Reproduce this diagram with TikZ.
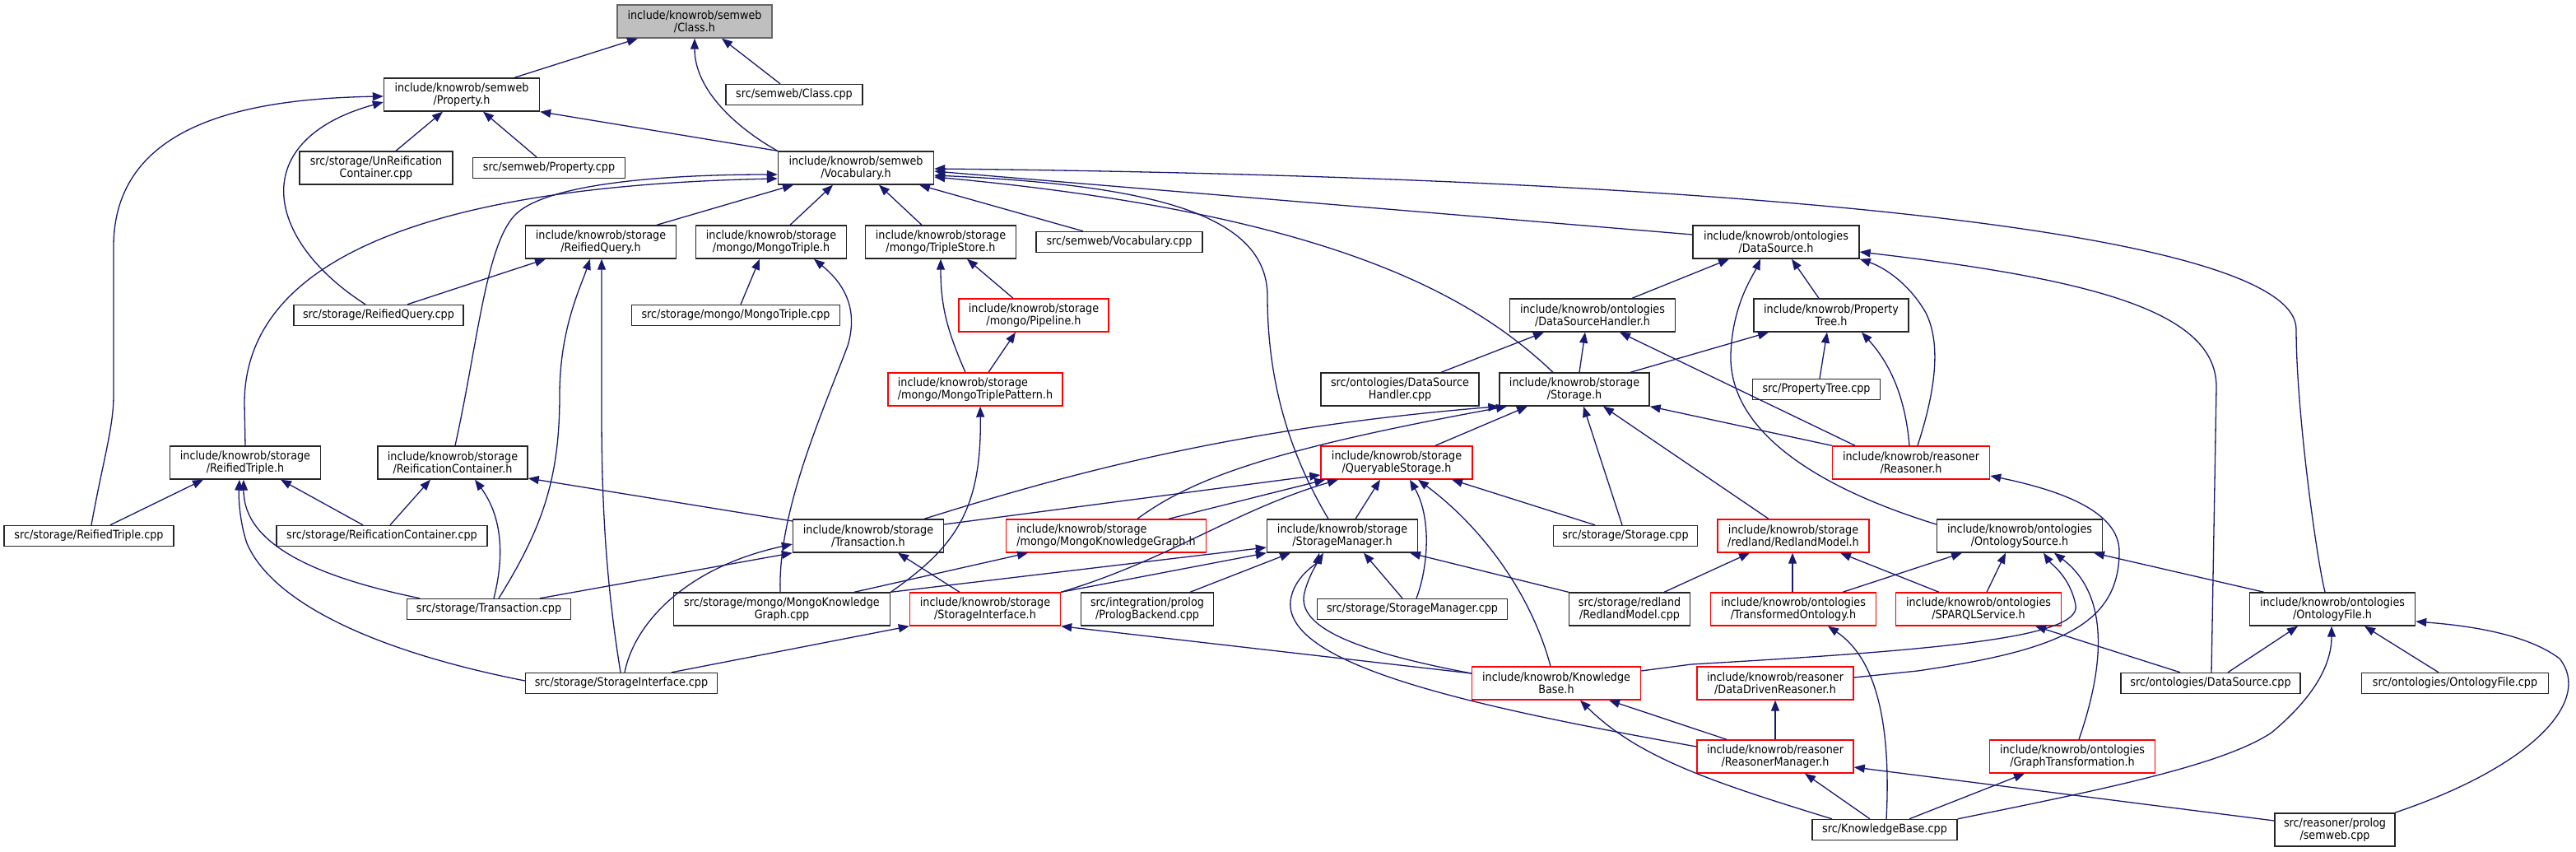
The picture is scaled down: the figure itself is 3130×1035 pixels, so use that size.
\documentclass[tikz,border=0pt]{standalone}
\usepackage{fontspec}
\setmainfont[FakeStretch=0.9]{DejaVu Sans}
\usetikzlibrary{arrows.meta,calc}
\definecolor{edgeblue}{HTML}{191970}
\definecolor{curfill}{HTML}{BFBFBF}
\definecolor{curdraw}{HTML}{666666}

\begin{document}
\begin{tikzpicture}[x=1pt,y=-1pt,
  box/.style={draw=black!85,line width=1.4pt,fill=white,inner sep=0pt,align=center,
    font=\fontsize{14.2}{15}\selectfont},
  hdr/.style={box,minimum height=40pt},
  src/.style={box,minimum height=25pt},
  trunc/.style={draw=red},
  cur/.style={fill=curfill,draw=curdraw},
  inc/.style={draw=edgeblue,line width=1.3pt,-{Triangle[length=13pt,width=10pt]}}]

\useasboundingbox (0,0) rectangle (3130,1035);

% rank 1-3
\node[hdr,cur,minimum width=188pt] (classH) at (844,26) {include/knowrob/semweb\\/Class.h};
\node[hdr,minimum width=189pt] (propH) at (561,115) {include/knowrob/semweb\\/Property.h};
\node[src,minimum width=166pt] (classCpp) at (965,115) {src/semweb/Class.cpp};
\node[hdr,minimum width=186pt] (unreifCpp) at (457,204) {src/storage/UnReification\\Container.cpp};
\node[src,minimum width=185pt] (propCpp) at (667,204) {src/semweb/Property.cpp};
\node[hdr,minimum width=189pt] (vocabH) at (1040,204) {include/knowrob/semweb\\/Vocabulary.h};

% rank 4-5
\node[hdr,minimum width=183pt] (rqueryH) at (730,294) {include/knowrob/storage\\/ReifiedQuery.h};
\node[hdr,minimum width=183pt] (mtripleH) at (937,294) {include/knowrob/storage\\/mongo/MongoTriple.h};
\node[hdr,minimum width=183pt] (tstoreH) at (1143,294) {include/knowrob/storage\\/mongo/TripleStore.h};
\node[src,minimum width=202pt] (vocabCpp) at (1360,294) {src/semweb/Vocabulary.cpp};
\node[hdr,minimum width=202pt] (dsrcH) at (2158,294) {include/knowrob/ontologies\\/DataSource.h};
\node[src,minimum width=206pt] (rqueryCpp) at (460,383) {src/storage/ReifiedQuery.cpp};
\node[src,minimum width=253pt] (mtripleCpp) at (894,383) {src/storage/mongo/MongoTriple.cpp};
\node[hdr,trunc,minimum width=182pt] (pipeH) at (1256,383) {include/knowrob/storage\\/mongo/Pipeline.h};
\node[hdr,minimum width=201pt] (dshandH) at (1935,383) {include/knowrob/ontologies\\/DataSourceHandler.h};
\node[hdr,minimum width=188pt] (ptreeH) at (2225,383) {include/knowrob/Property\\Tree.h};

% rank 6-7
\node[hdr,trunc,align=left,minimum width=212pt] (mtpatH) at (1185,473) {include/knowrob/storage\\/mongo/MongoTriplePattern.h};
\node[hdr,minimum width=192pt] (dshandCpp) at (1701,473) {src/ontologies/DataSource\\Handler.cpp};
\node[hdr,minimum width=182pt] (storH) at (1913,473) {include/knowrob/storage\\/Storage.h};
\node[src,minimum width=155pt] (ptreeCpp) at (2207,473) {src/PropertyTree.cpp};
\node[hdr,minimum width=183pt] (rtripH) at (298,562) {include/knowrob/storage\\/ReifiedTriple.h};
\node[hdr,minimum width=182pt] (rcontH) at (550,562) {include/knowrob/storage\\/ReificationContainer.h};
\node[hdr,trunc,minimum width=184pt] (qstorH) at (1697,562) {include/knowrob/storage\\/QueryableStorage.h};
\node[hdr,trunc,minimum width=191pt] (reasH) at (2322,562) {include/knowrob/reasoner\\/Reasoner.h};

% rank 8
\node[src,minimum width=206pt] (rtripCpp) at (108,651) {src/storage/ReifiedTriple.cpp};
\node[src,minimum width=256pt] (rcontCpp) at (464,651) {src/storage/ReificationContainer.cpp};
\node[hdr,minimum width=183pt] (transH) at (1055,651) {include/knowrob/storage\\/Transaction.h};
\node[hdr,trunc,align=left,minimum width=243pt] (mkgH) at (1344,651) {include/knowrob/storage\\/mongo/MongoKnowledgeGraph.h};
\node[hdr,minimum width=183pt] (smgrH) at (1631,651) {include/knowrob/storage\\/StorageManager.h};
\node[src,minimum width=175pt] (storCpp) at (1975,651) {src/storage/Storage.cpp};
\node[hdr,trunc,minimum width=184pt] (rmodelH) at (2179,651) {include/knowrob/storage\\/redland/RedlandModel.h};
\node[hdr,minimum width=201pt] (osrcH) at (2454,651) {include/knowrob/ontologies\\/OntologySource.h};

% rank 9
\node[src,minimum width=199pt] (transCpp) at (594,740) {src/storage/Transaction.cpp};
\node[hdr,minimum width=263pt] (mkgCpp) at (950,740) {src/storage/mongo/MongoKnowledge\\Graph.cpp};
\node[hdr,trunc,minimum width=183pt] (sintH) at (1197,740) {include/knowrob/storage\\/StorageInterface.h};
\node[hdr,minimum width=161pt] (prologCpp) at (1394,740) {src/integration/prolog\\/PrologBackend.cpp};
\node[src,minimum width=231pt] (smgrCpp) at (1716,740) {src/storage/StorageManager.cpp};
\node[hdr,minimum width=147pt] (rmodelCpp) at (1980,740) {src/storage/redland\\/RedlandModel.cpp};
\node[hdr,trunc,minimum width=201pt] (tontoH) at (2179,740) {include/knowrob/ontologies\\/TransformedOntology.h};
\node[hdr,trunc,minimum width=201pt] (sparqlH) at (2404,740) {include/knowrob/ontologies\\/SPARQLService.h};
\node[hdr,minimum width=201pt] (ofileH) at (2834,740) {include/knowrob/ontologies\\/OntologyFile.h};

% rank 10-12
\node[src,minimum width=233pt] (sintCpp) at (755,830) {src/storage/StorageInterface.cpp};
\node[hdr,trunc,minimum width=205pt] (kbH) at (1891,830) {include/knowrob/Knowledge\\Base.h};
\node[hdr,trunc,minimum width=190pt] (ddreasH) at (2157,830) {include/knowrob/reasoner\\/DataDrivenReasoner.h};
\node[src,minimum width=218pt] (dsrcCpp) at (2686,830) {src/ontologies/DataSource.cpp};
\node[src,minimum width=227pt] (ofileCpp) at (2983,830) {src/ontologies/OntologyFile.cpp};
\node[hdr,trunc,minimum width=190pt] (rmgrH) at (2157,919) {include/knowrob/reasoner\\/ReasonerManager.h};
\node[hdr,trunc,minimum width=201pt] (gtransH) at (2518,919) {include/knowrob/ontologies\\/GraphTransformation.h};
\node[src,minimum width=176pt] (kbCpp) at (2290,1008) {src/KnowledgeBase.cpp};
\node[hdr,minimum width=146pt] (semwebCpp) at (2837,1008) {src/reasoner/prolog\\/semweb.cpp};

% Class.h, Property.h
\draw[inc] ($(propH.north)+(64,0)$) -- ($(classH.south)+(-69,0)$);
\draw[inc] ($(classCpp.north)+(-17,0)$) -- ($(classH.south)+(33,0)$);
\draw[inc] (vocabH.north west) .. controls (896,156) and (844,110) .. (classH.south);
\draw[inc] (vocabH.north west) -- (propH.south east);
\draw[inc] ($(unreifCpp.north)+(24,0)$) -- ($(propH.south)+(-23,0)$);
\draw[inc] ($(propCpp.north)+(-15,0)$) -- ($(propH.south)+(26,0)$);
\draw[inc] ($(rqueryCpp.north)+(-16,0)$) .. controls (320,290) and (300,170) .. ($(propH.west)+(0,9)$);
\draw[inc] ($(rtripCpp.north)+(3,0)$) .. controls (125,560) and (138,520) .. (138,480) -- (138,300) .. controls (138,150) and (300,120) .. ($(propH.west)+(0,2)$);

% Vocabulary.h
\draw[inc] ($(rqueryH.north)+(68,0)$) -- ($(vocabH.south)+(-76,0)$);
\draw[inc] ($(mtripleH.north)+(23,0)$) -- ($(vocabH.south)+(-28,0)$);
\draw[inc] ($(tstoreH.north)+(-23,0)$) -- ($(vocabH.south)+(28,0)$);
\draw[inc] ($(vocabCpp.north)+(-44,0)$) -- ($(vocabH.south)+(77,0)$);
\draw[inc] ($(dsrcH.west)+(0,-9)$) -- ($(vocabH.east)+(0,4)$);
\draw[inc] ($(ofileH.north)+(-9,0)$) .. controls (2815,680) and (2790,500) .. (2790,400) .. controls (2790,280) and (2100,215) .. ($(vocabH.east)+(0,1)$);
\draw[inc] ($(storH.north)+(-26,0)$) .. controls (1790,360) and (1620,260) .. ($(vocabH.east)+(0,11)$);
\draw[inc] ($(smgrH.north)+(-17,0)$) .. controls (1560,540) and (1540,450) .. (1540,360) .. controls (1540,260) and (1400,225) .. ($(vocabH.east)+(0,9)$);
\draw[inc] (rtripH.north) -- (297,490) .. controls (297,300) and (560,225) .. ($(vocabH.west)+(0,13)$);
\draw[inc] ($(rcontH.north)+(3,0)$) .. controls (580,420) and (590,300) .. (625,262) .. controls (660,224) and (800,212) .. ($(vocabH.west)+(0,8)$);

% ReifiedQuery.h, MongoTriple.h, TripleStore.h
\draw[inc] ($(rqueryCpp.north)+(35,0)$) -- ($(rqueryH.south)+(-67,0)$);
\draw[inc] ($(transCpp.north)+(12,0)$) .. controls (660,640) and (680,580) .. (680,480) .. controls (680,400) and (705,350) .. ($(rqueryH.south)+(-13,0)$);
\draw[inc] ($(sintCpp.north)+(-1,0)$) .. controls (735,700) and (731,600) .. (731,500) -- ($(rqueryH.south)+(1,0)$);
\draw[inc] ($(mtripleCpp.north)+(6,0)$) -- ($(mtripleH.south)+(-14,0)$);
\draw[inc] ($(mkgCpp.north)+(-2,0)$) .. controls (945,620) and (1000,500) .. (1030,420) .. controls (1045,370) and (1020,340) .. ($(mtripleH.south)+(52,0)$);
\draw[inc] ($(mtpatH.north)+(-12,0)$) .. controls (1150,400) and (1143,370) .. (tstoreH.south);
\draw[inc] ($(pipeH.north)+(-25,0)$) -- ($(tstoreH.south)+(32,0)$);
\draw[inc] ($(mtpatH.north)+(16,0)$) -- ($(pipeH.south)+(-22,0)$);
\draw[inc] (mkgCpp.north east) .. controls (1160,665) and (1193,620) .. ($(mtpatH.south)+(6,0)$);

% DataSource.h, DataSourceHandler.h, PropertyTree.h
\draw[inc] ($(dshandH.north)+(48,0)$) -- ($(dsrcH.south)+(-57,0)$);
\draw[inc] ($(osrcH.west)+(0,-14)$) .. controls (2200,590) and (2100,520) .. (2103,430) .. controls (2105,370) and (2130,335) .. ($(dsrcH.south)+(-19,0)$);
\draw[inc] ($(ptreeH.north)+(-15,0)$) -- ($(dsrcH.south)+(19,0)$);
\draw[inc] ($(reasH.north)+(8,0)$) .. controls (2350,480) and (2360,420) .. (2340,380) .. controls (2320,345) and (2290,325) .. (dsrcH.south east);
\draw[inc] ($(dsrcCpp.north)+(1,0)$) -- (2693,470) .. controls (2693,380) and (2550,340) .. ($(dsrcH.east)+(0,12)$);
\draw[inc] ($(dshandCpp.north)+(50,0)$) -- ($(dshandH.south)+(-59,0)$);
\draw[inc] ($(storH.north)+(6,0)$) -- ($(dshandH.south)+(-9,0)$);
\draw[inc] ($(reasH.north)+(-68,0)$) -- ($(dshandH.south)+(33,0)$);
\draw[inc] ($(storH.north)+(68,0)$) -- ($(ptreeH.south)+(-76,0)$);
\draw[inc] ($(ptreeCpp.north)+(4,0)$) -- ($(ptreeH.south)+(-5,0)$);
\draw[inc] ($(reasH.north)+(-2,0)$) .. controls (2315,480) and (2295,440) .. ($(ptreeH.south)+(37,0)$);

% Storage.h, QueryableStorage.h
\draw[inc] ($(qstorH.north)+(47,0)$) -- ($(storH.south)+(-57,0)$);
\draw[inc] ($(storCpp.north)+(-4,0)$) -- ($(storH.south)+(11,0)$);
\draw[inc] ($(rmodelH.north)+(-30,0)$) -- ($(storH.south)+(35,0)$);
\draw[inc] (reasH.north west) -- (storH.south east);
\draw[inc] ($(transH.north)+(68,0)$) .. controls (1300,575) and (1500,520) .. (storH.south west);
\draw[inc] ($(mkgH.north)+(38,0)$) .. controls (1450,580) and (1550,545) .. ($(storH.south)+(-82,0)$);
\draw[inc] ($(transH.east)+(0,-14)$) -- ($(qstorH.west)+(0,15)$);
\draw[inc] ($(mkgH.north)+(76,0)$) -- ($(qstorH.south west)+(6,0)$);
\draw[inc] (sintH.north east) .. controls (1420,680) and (1500,620) .. ($(qstorH.south)+(-71,0)$);
\draw[inc] ($(smgrH.north)+(16,0)$) -- ($(qstorH.south)+(-20,0)$);
\draw[inc] ($(smgrCpp.north)+(5,0)$) .. controls (1735,690) and (1740,630) .. ($(qstorH.south)+(16,0)$);
\draw[inc] ($(kbH.north)+(-7,0)$) .. controls (1860,720) and (1800,640) .. ($(qstorH.south)+(26,0)$);
\draw[inc] ($(storCpp.north)+(-37,0)$) -- ($(qstorH.south)+(67,0)$);

% StorageManager.h
\draw[inc] ($(prologCpp.north)+(52,0)$) -- ($(smgrH.south)+(-63,0)$);
\draw[inc] ($(smgrCpp.north)+(-12,0)$) -- ($(smgrH.south)+(26,0)$);
\draw[inc] (rmodelCpp.north west) -- ($(smgrH.south)+(82,0)$);
\draw[inc] ($(kbH.west)+(0,-12)$) .. controls (1640,790) and (1575,760) .. (1585,720) .. controls (1590,700) and (1600,685) .. ($(smgrH.south)+(-28,0)$);
\draw[inc] ($(rmgrH.west)+(0,-12)$) .. controls (1800,860) and (1560,810) .. (1568,730) .. controls (1572,700) and (1600,685) .. ($(smgrH.south)+(-23,0)$);
\draw[inc] (mkgCpp.north east) -- ($(smgrH.west)+(0,14)$);
\draw[inc] (sintH.north east) -- (smgrH.south west);

% Transaction.h, StorageInterface.h, MongoKnowledgeGraph.h
\draw[inc] ($(sintH.north)+(-31,0)$) -- ($(transH.south)+(36,0)$);
\draw[inc] ($(sintCpp.north)+(4,0)$) .. controls (770,760) and (830,690) .. ($(transH.west)+(0,10)$);
\draw[inc] ($(transCpp.north)+(62,0)$) -- (transH.south west);
\draw[inc] ($(sintCpp.north)+(61,0)$) -- (sintH.south west);
\draw[inc] ($(kbH.west)+(0,-12)$) -- (sintH.south east);
\draw[inc] ($(mkgCpp.north)+(88,0)$) -- ($(mkgH.south)+(-95,0)$);

% ReificationContainer.h, ReifiedTriple.h
\draw[inc] ($(transH.west)+(0,-18)$) -- ($(rcontH.east)+(0,19)$);
\draw[inc] ($(rcontCpp.north)+(-23,0)$) -- ($(rtripH.south)+(43,0)$);
\draw[inc] ($(rcontCpp.north)+(10,0)$) -- ($(rcontH.south)+(-27,0)$);
\draw[inc] ($(rtripCpp.north)+(26,0)$) -- ($(rtripH.south)+(-51,0)$);
\draw[inc] ($(sintCpp.west)+(0,-3)$) .. controls (450,790) and (330,730) .. (300,660) .. controls (290,630) and (290,600) .. ($(rtripH.south)+(-7,0)$);
\draw[inc] ($(transCpp.north)+(-84,0)$) .. controls (380,700) and (296,660) .. ($(rtripH.south)+(-2,0)$);
\draw[inc] ($(transCpp.north)+(6,0)$) .. controls (612,680) and (612,630) .. ($(rcontH.south)+(27,0)$);

% OntologySource.h, RedlandModel.h, Reasoner.h
\draw[inc] ($(tontoH.north)+(60,0)$) -- ($(osrcH.south)+(-70,0)$);
\draw[inc] ($(sparqlH.north)+(10,0)$) -- ($(osrcH.south)+(-17,0)$);
\draw[inc] ($(kbH.east)+(0,-15)$) -- (2055,807) .. controls (2350,790) and (2530,775) .. (2522,735) .. controls (2515,700) and (2492,685) .. ($(osrcH.south)+(29,0)$);
\draw[inc] ($(gtransH.north)+(8,0)$) .. controls (2560,800) and (2560,720) .. ($(osrcH.south)+(42,0)$);
\draw[inc] ($(ofileH.north west)+(18,0)$) -- ($(osrcH.south)+(90,0)$);
\draw[inc] ($(tontoH.north)+(-1,0)$) -- ($(rmodelH.south)+(-1,0)$);
\draw[inc] ($(rmodelCpp.north)+(42,0)$) -- ($(rmodelH.south)+(-53,0)$);
\draw[inc] ($(sparqlH.north)+(-48,0)$) -- ($(rmodelH.south)+(57,0)$);
\draw[inc] ($(ddreasH.east)+(0,-7)$) -- (2330,815) .. controls (2500,790) and (2575,760) .. (2575,670) .. controls (2575,620) and (2500,595) .. ($(reasH.east)+(0,16)$);

% KnowledgeBase.h, ReasonerManager.h and the rest
\draw[inc] ($(kbCpp.north)+(-64,0)$) .. controls (2080,950) and (1990,920) .. ($(kbH.south)+(29,0)$);
\draw[inc] ($(rmgrH.north)+(-59,0)$) -- ($(kbH.south)+(64,0)$);
\draw[inc] (rmgrH.north) -- (ddreasH.south);
\draw[inc] ($(kbCpp.north)+(-18,0)$) -- ($(rmgrH.south)+(36,0)$);
\draw[inc] ($(semwebCpp.west)+(0,-11)$) -- ($(rmgrH.east)+(0,13)$);
\draw[inc] ($(kbCpp.north)+(2,0)$) .. controls (2298,880) and (2280,800) .. ($(tontoH.south)+(42,0)$);
\draw[inc] ($(kbCpp.north)+(30,0)$) -- ($(gtransH.south)+(-58,0)$);
\draw[inc] (kbCpp.north east) .. controls (2550,960) and (2700,930) .. (2760,890) .. controls (2820,840) and (2833,800) .. ($(ofileH.south)+(-1,0)$);
\draw[inc] ($(semwebCpp.north east)+(-1,0)$) .. controls (3080,930) and (3150,850) .. (3110,800) .. controls (3070,770) and (3000,760) .. ($(ofileH.east)+(0,15)$);
\draw[inc] ($(dsrcCpp.north)+(21,0)$) -- ($(ofileH.south)+(-42,0)$);
\draw[inc] ($(ofileCpp.north)+(-20,0)$) -- ($(ofileH.south)+(39,0)$);
\draw[inc] ($(dsrcCpp.north)+(-37,0)$) -- ($(sparqlH.south)+(69,0)$);

\end{tikzpicture}
\end{document}
